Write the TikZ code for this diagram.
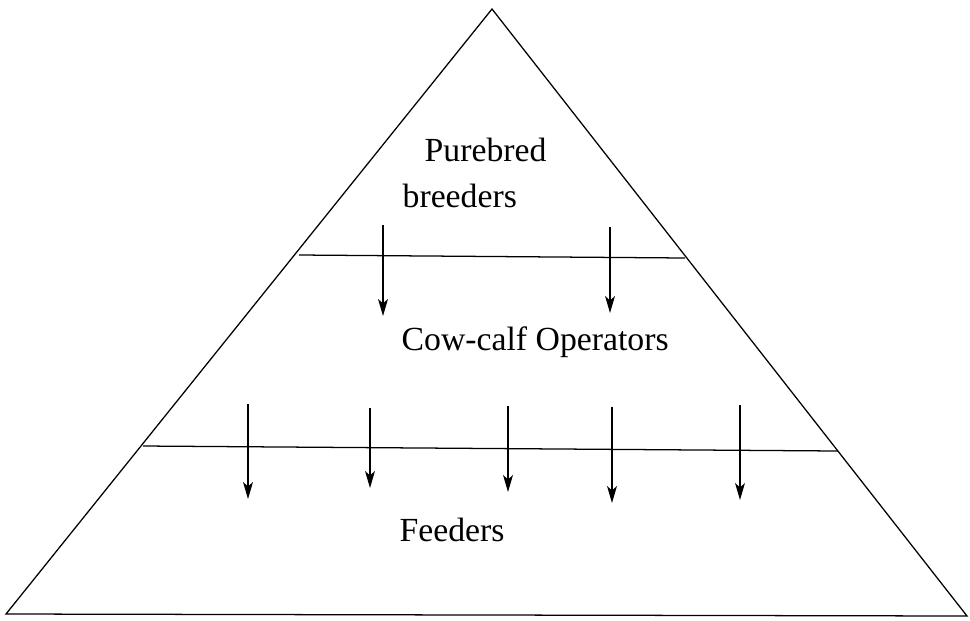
\documentclass[tikz,border=0pt]{standalone}
\usepackage{fontspec}
\setmainfont{Liberation Serif}
\usetikzlibrary{arrows.meta}

\begin{document}
\begin{tikzpicture}[->, >={Stealth[length=12pt,width=7pt,inset=3pt]}, x=0.025cm, y=-0.025cm, line width=0.9pt]
\tikzstyle{every node}=[inner sep=0pt, anchor=base west, font=\fontsize{24}{28}\selectfont]
\useasboundingbox (0,0) rectangle (970,620);
% pyramid
\coordinate (apex)  at (492,9);
\coordinate (left)  at (6,614);
\coordinate (right) at (967,616);
\draw[-] (apex) -- (left) -- (right) -- cycle;
% levels
\coordinate (l1a) at (299,255);
\coordinate (l1b) at (685,258);
\coordinate (l2a) at (143,446);
\coordinate (l2b) at (838,451);
\draw[-] (l1a) -- (l1b);
\draw[-] (l2a) -- (l2b);
% labels
\node (pure)  at (424,161) {Purebred};
\node (breed) at (402,207) {breeders};
\node (cow)   at (401,350) {Cow-calf Operators};
\node (feed)  at (399,541) {Feeders};
% arrows
\foreach \n/\x/\ya/\yb in {1/383/225/316, 2/610/227/313,
                          3/248/404/499, 4/370/408/488, 5/508/406/492,
                          6/612/407/503, 7/740/405/500}
{
  \coordinate (s\n) at (\x,\ya);
  \coordinate (e\n) at (\x,\yb);
  \draw (s\n) -- (e\n);
}
\end{tikzpicture}
\end{document}
